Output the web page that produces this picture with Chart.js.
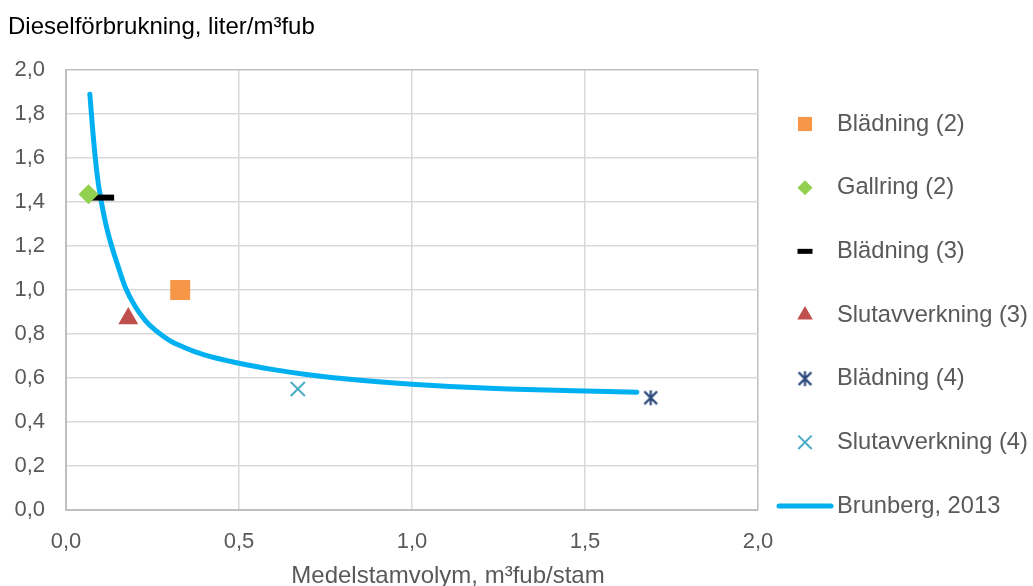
<!DOCTYPE html>
<html>
<head>
<meta charset="utf-8">
<script src="https://cdn.jsdelivr.net/npm/chart.js@4.4.1/dist/chart.umd.min.js"></script>
<style>
  html, body { margin: 0; padding: 0; background: #fff; }
  #wrap { width: 1033px; height: 586px; }
</style>
</head>
<body>
<div id="wrap"><canvas id="chart"></canvas></div>
<script>
const seriesNames = ['Blädning (2)', 'Gallring (2)', 'Blädning (3)', 'Slutavverkning (3)', 'Blädning (4)', 'Slutavverkning (4)', 'Brunberg, 2013'];
const pointX = [0.33, 0.065, 0.103, 0.18, 1.69, 0.67];
const pointY = [1.0, 1.435, 1.42, 0.87, 0.51, 0.55];
const brunbergX = [0.069, 0.076, 0.084, 0.092, 0.101, 0.115, 0.13, 0.15, 0.172, 0.2, 0.23, 0.26, 0.3, 0.34, 0.4, 0.5, 0.6, 0.7, 0.82, 1.0, 1.225, 1.5, 1.65];
const brunbergY = [1.89, 1.75, 1.61, 1.50, 1.41, 1.30, 1.21, 1.11, 1.01, 0.925, 0.86, 0.815, 0.77, 0.74, 0.705, 0.667, 0.638, 0.615, 0.594, 0.572, 0.553, 0.541, 0.535];
const xTickLabels = ['0,0', '0,5', '1,0', '1,5', '2,0'];
const yTickLabels = ['0,0', '0,2', '0,4', '0,6', '0,8', '1,0', '1,2', '1,4', '1,6', '1,8', '2,0'];
const yTitle = 'Dieselförbrukning, liter/m³fub';
const xTitle = 'Medelstamvolym, m³fub/stam';

const FONT = '"Liberation Sans", Arial, sans-serif';

// excel style star: x plus a vertical stroke
function makeStar(size, color) {
    const c = document.createElement('canvas');
    c.width = size;
    c.height = size;
    const g = c.getContext('2d');
    g.strokeStyle = color;
    g.lineWidth = 2.2;
    const m = size / 2, r = size / 2 - 1;
    g.beginPath();
    g.moveTo(m, m - r); g.lineTo(m, m + r);
    g.moveTo(m - r * 0.85, m - r * 0.85); g.lineTo(m + r * 0.85, m + r * 0.85);
    g.moveTo(m + r * 0.85, m - r * 0.85); g.lineTo(m - r * 0.85, m + r * 0.85);
    g.stroke();
    return c;
}

const styles = [
    { pointStyle: 'rect', radius: 14.1, color: '#F79646', borderWidth: 0, legendRadius: 10 },
    { pointStyle: 'rectRot', radius: 10, color: '#92D050', borderWidth: 0, legendRadius: 7.5 },
    { pointStyle: 'line', radius: 12.5, color: '#000000', borderWidth: 6, legendRadius: 7.5, legendBorder: 5 },
    { pointStyle: 'triangle', radius: 11.5, color: '#C0504D', borderWidth: 0, legendRadius: 9 },
    { pointStyle: makeStar(17, '#2C4A7C'), radius: 8, color: '#2C4A7C', borderWidth: 2, legendRadius: 8 },
    { pointStyle: 'crossRot', radius: 10, color: '#4BACC6', borderWidth: 2, legendRadius: 9.5 }
];

const datasets = pointX.map((x, i) => ({
    label: seriesNames[i],
    data: [{ x: x, y: pointY[i] }],
    pointStyle: styles[i].pointStyle,
    pointRadius: styles[i].radius,
    pointBackgroundColor: styles[i].color,
    pointBorderColor: styles[i].color,
    pointBorderWidth: styles[i].borderWidth,
    showLine: false
}));

datasets.push({
    label: seriesNames[6],
    data: brunbergX.map((x, i) => ({ x: x, y: brunbergY[i] })),
    showLine: true,
    borderColor: '#00B0F0',
    borderWidth: 5,
    borderCapStyle: 'round',
    cubicInterpolationMode: 'monotone',
    pointRadius: 0
});

const extras = {
    id: 'extras',
    afterDraw(chart) {
        const ctx = chart.ctx;
        const area = chart.chartArea;
        ctx.save();
        ctx.textBaseline = 'middle';
        ctx.font = '24px ' + FONT;
        ctx.fillStyle = '#000000';
        ctx.textAlign = 'left';
        ctx.fillText(yTitle, 8, 27);
        ctx.fillStyle = '#595959';
        ctx.textAlign = 'center';
        ctx.fillText(xTitle, 448, 576);

        // legend
        ctx.font = '23.7px ' + FONT;
        ctx.textAlign = 'left';
        const mx = area.right + 47;
        chart.data.datasets.forEach((ds, i) => {
            const y = area.top + 54 + i * 63.67;
            if (i === 6) {
                ctx.strokeStyle = ds.borderColor;
                ctx.lineWidth = 5;
                ctx.lineCap = 'round';
                ctx.beginPath();
                ctx.moveTo(mx - 26, y);
                ctx.lineTo(mx + 26, y);
                ctx.stroke();
            } else {
                const s = styles[i];
                ctx.fillStyle = s.color;
                ctx.strokeStyle = s.color;
                ctx.lineWidth = s.legendBorder || s.borderWidth;
                Chart.helpers.drawPoint(ctx, {
                    pointStyle: s.pointStyle,
                    radius: s.legendRadius,
                    rotation: 0,
                    borderWidth: s.legendBorder || s.borderWidth
                }, mx, y);
            }
            ctx.fillStyle = '#595959';
            ctx.fillText(ds.label, mx + 32, y);
        });
        ctx.restore();
    }
};

const gridColor = (last) => (c) => (c.tick && c.tick.value === last ? '#BFBFBF' : '#D9D9D9');

new Chart(document.getElementById('chart'), {
    type: 'scatter',
    data: { datasets: datasets },
    options: {
        responsive: true,
        maintainAspectRatio: false,
        animation: false,
        events: [],
        layout: { padding: { top: 70, right: 275, left: 0, bottom: 0 } },
        plugins: {
            legend: { display: false },
            tooltip: { enabled: false }
        },
        scales: {
            x: {
                type: 'linear',
                min: 0,
                max: 2,
                afterFit: (s) => { s.height = 76; },
                ticks: {
                    stepSize: 0.5,
                    padding: 19,
                    color: '#595959',
                    font: { family: FONT, size: 22 },
                    callback: (v, i) => xTickLabels[i]
                },
                grid: { color: gridColor(2), lineWidth: 1.5, drawTicks: false },
                border: { color: '#BFBFBF', width: 2 }
            },
            y: {
                type: 'linear',
                min: 0,
                max: 2,
                afterFit: (s) => { s.width = 66; },
                ticks: {
                    stepSize: 0.2,
                    padding: 21,
                    color: '#595959',
                    font: { family: FONT, size: 22 },
                    callback: (v, i) => yTickLabels[i]
                },
                grid: { color: gridColor(2), lineWidth: 1.5, drawTicks: false },
                border: { color: '#BFBFBF', width: 2 }
            }
        }
    },
    plugins: [extras]
});
</script>
</body>
</html>
